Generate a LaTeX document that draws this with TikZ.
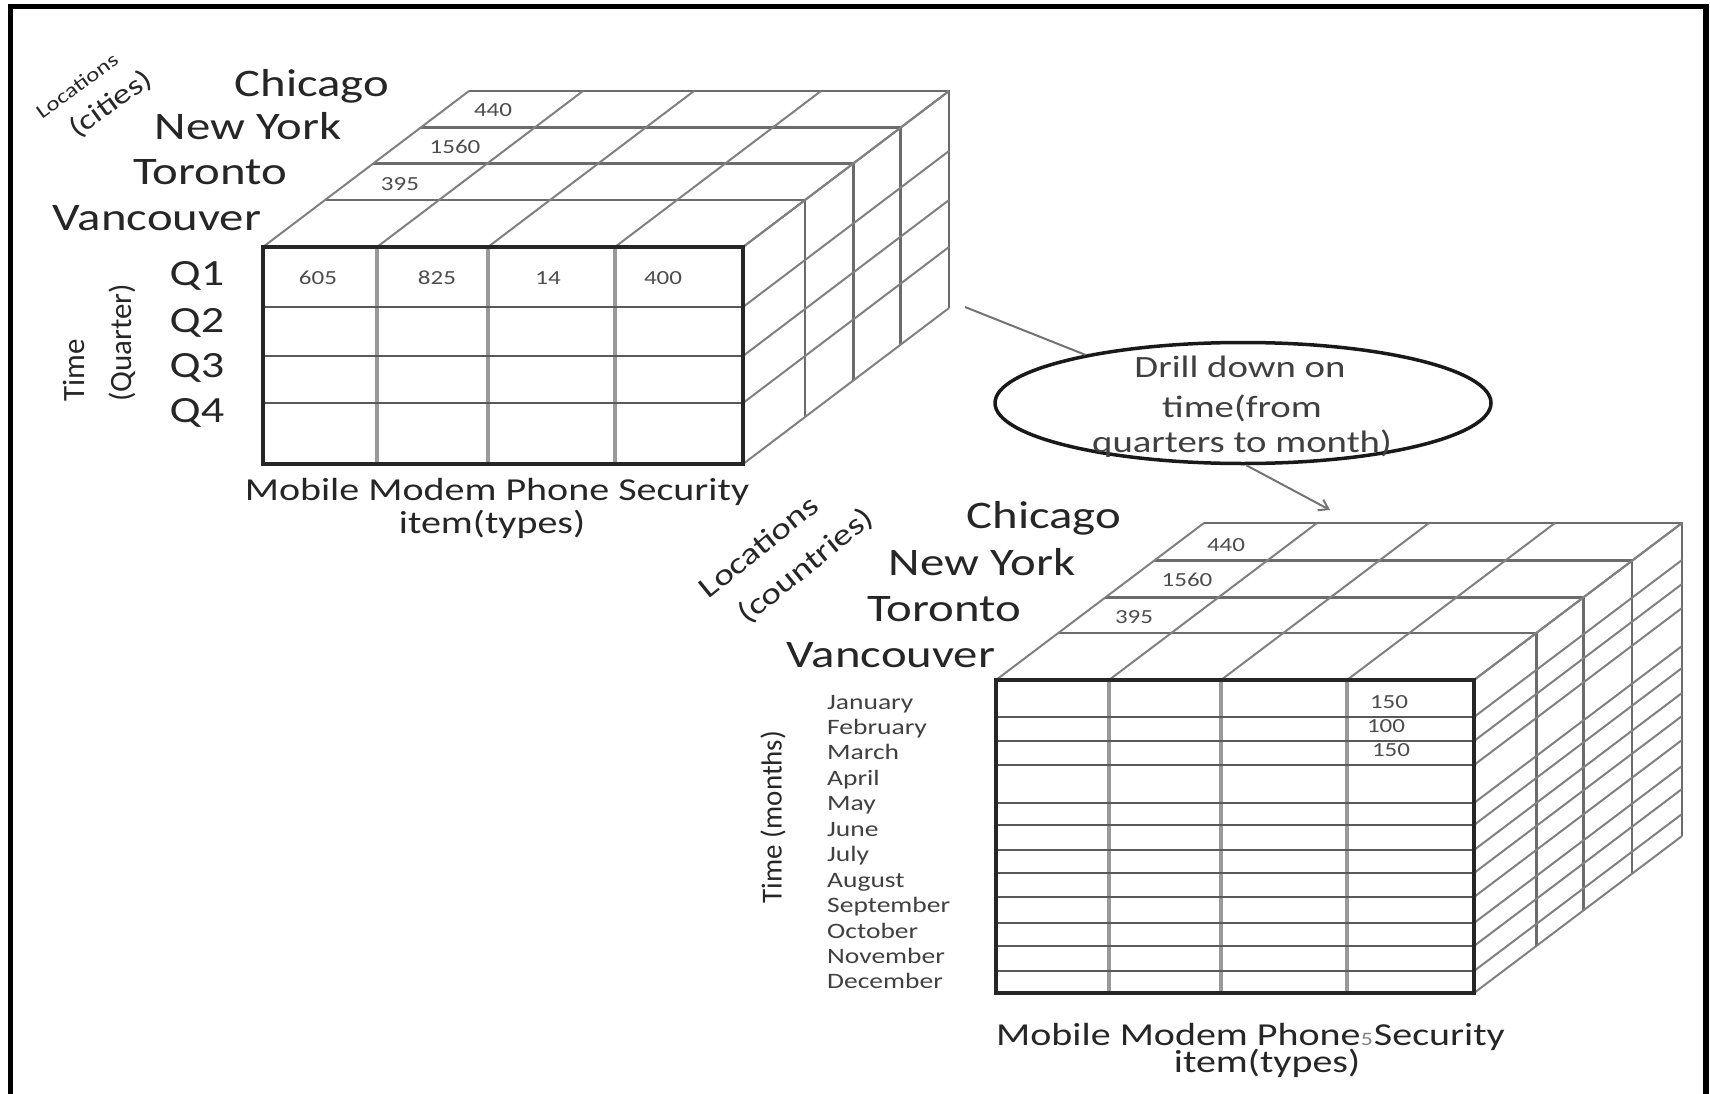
\documentclass[tikz,border=0pt]{standalone}
\usepackage{fontspec}
\setmainfont{Carlito}[FakeStretch=1.25]
\newfontfamily\plainlab{Carlito}
\usetikzlibrary{arrows.meta,shapes.geometric}

\newcommand\labsize[1]{\fontsize{#1}{#1}\selectfont}

\begin{document}
\begin{tikzpicture}[x=1pt,y=-1pt,
  diag/.style={line width=2pt,draw=black!50},
  layer/.style={line width=2.6pt,draw=black!58},
  frow/.style={line width=2.4pt,draw=black!65},
  fcol/.style={line width=3.2pt,draw=black!40},
  fborder/.style={line width=4.5pt,draw=black!85},
  city/.style={anchor=base,text=black!85,inner sep=0pt,font=\labsize{39}},
  qlab/.style={anchor=base,text=black!85,inner sep=0pt,font=\labsize{37}},
  axis/.style={anchor=base,text=black!85,inner sep=0pt,font=\labsize{32}},
  num/.style={text=black!70,inner sep=0pt,font=\labsize{20}},
  month/.style={anchor=base west,text=black!75,inner sep=0pt,font=\labsize{22}},
  etext/.style={anchor=base,text=black!75,inner sep=0pt,font=\labsize{31}},
  conn/.style={line width=2pt,draw=black!55}]

\useasboundingbox (0,0) rectangle (1710,1094);

% outer frame (open at the bottom)
\draw[line width=5.5pt,line join=miter] (10.5,1094) -- (10.5,6.5) -- (1706,6.5) -- (1706,1094);

% ---------------- quarter cube ----------------
\begin{scope}
\def\xa{263}\def\xb{743}\def\ya{247}\def\yb{464}\def\dx{206}\def\dy{156}
\foreach \f in {0.30,0.535,0.765,1}{
  \draw[layer] (\xa+\f*\dx,\ya-\f*\dy) -- (\xb+\f*\dx,\ya-\f*\dy) -- (\xb+\f*\dx,\yb-\f*\dy);
}
\foreach \c in {263,377,488,615,743}{
  \draw[diag] (\c,\ya) -- (\c+\dx,\ya-\dy);
}
\foreach \r in {247,307,356,403,464}{
  \draw[diag] (\xb,\r) -- (\xb+\dx,\r-\dy);
}
\fill[white] (\xa,\ya) rectangle (\xb,\yb);
\foreach \c in {377,488,615} \draw[fcol] (\c,\ya) -- (\c,\yb);
\foreach \r in {307,356,403} \draw[frow] (\xa,\r) -- (\xb,\r);
\draw[fborder] (\xa,\ya) rectangle (\xb,\yb);
\end{scope}

\node[num] (q605) at (318,278) {605};
\node[num] (q825) at (437,278) {825};
\node[num] (q14)  at (548,278) {14};
\node[num] (q400) at (663,278) {400};
\node[num] (qchi) at (493,110) {440};
\node[num] (qny)  at (455,147) {1560};
\node[num] (qtor) at (400,184) {395};

\node[city] (lchi) at (312,97)  {Chicago};
\node[city] (lny)  at (248,140) {New York};
\node[city] (ltor) at (210,185) {Toronto};
\node[city] (lvan) at (157,230) {Vancouver};

\node[qlab] (q1) at (197,285) {Q1};
\node[qlab] (q2) at (197,332) {Q2};
\node[qlab] (q3) at (197,377) {Q3};
\node[qlab] (q4) at (197,422) {Q4};

\node[rotate=90,align=left,text=black!85,inner sep=0pt,
      font=\plainlab\fontsize{31}{47}\selectfont] (ltime) at (99,343) {Time\\(Quarter)};

\node[rotate=36,align=left,text=black!85,inner sep=0pt,
      font=\fontsize{20}{36}\selectfont] (lloc) at (95,97)
      {Locations\\\hspace*{17pt}{\fontsize{28}{36}\selectfont(cities)}};

\node[axis] (litems) at (497,500) {Mobile Modem Phone Security};
\node[axis] (litem)  at (492,533) {item(types)};

% ---------------- month cube ----------------
\begin{scope}
\def\xa{996}\def\xb{1474}\def\ya{680}\def\yb{993}\def\dx{208}\def\dy{157}
\foreach \f in {0.30,0.525,0.76,1}{
  \draw[layer] (\xa+\f*\dx,\ya-\f*\dy) -- (\xb+\f*\dx,\ya-\f*\dy) -- (\xb+\f*\dx,\yb-\f*\dy);
}
\foreach \c in {996,1109,1221,1347,1474}{
  \draw[diag] (\c,\ya) -- (\c+\dx,\ya-\dy);
}
\foreach \r in {680,717,741,765,803,825,850,873,897,923,946,971,993}{
  \draw[diag] (\xb,\r) -- (\xb+\dx,\r-\dy);
}
\fill[white] (\xa,\ya) rectangle (\xb,\yb);
\foreach \c in {1109,1221,1347} \draw[fcol] (\c,\ya) -- (\c,\yb);
\foreach \r in {717,741,765,803,825,850,873,897,923,946,971} \draw[frow] (\xa,\r) -- (\xb,\r);
\draw[fborder] (\xa,\ya) rectangle (\xb,\yb);
\end{scope}

\node[num] (mchi) at (1226,545) {440};
\node[num] (mny)  at (1187,580) {1560};
\node[num] (mtor) at (1134,617) {395};
\node[num] (mjan) at (1389,702) {150};
\node[num] (mfeb) at (1386,726) {100};
\node[num] (mmar) at (1391,750) {150};

\node[city] (rchi) at (1044,528) {Chicago};
\node[city] (rny)  at (982,575)  {New York};
\node[city] (rtor) at (944,621)  {Toronto};
\node[city] (rvan) at (891,667)  {Vancouver};

\node[rotate=39,align=left,text=black!85,inner sep=0pt,
      font=\fontsize{30}{44}\selectfont] (rloc) at (787,554)
      {Locations\\\hspace*{14pt}(countries)};

\foreach \m [count=\i from 0] in {January,February,March,April,May,June,July,August,September,October,November,December}{
  \node[month] (month\i) at (827,709+25.45*\i) {\m};
}

\node[rotate=90,text=black!85,inner sep=0pt,
      font=\plainlab\fontsize{29}{29}\selectfont] (rtime) at (773,817) {Time (months)};

\node[axis,anchor=base west] (ritems) at (996,1045) {Mobile Modem Phone};
\node[anchor=base,text=black!50,inner sep=0pt,font=\labsize{19}] (pageno) at (1367,1045) {5};
\node[axis,anchor=base east] (rsec) at (1505,1045) {Security};
\node[axis] (ritem)  at (1267,1072) {item(types)};

% ---------------- drill-down note ----------------
\node[draw=black!90,line width=3.5pt,ellipse,minimum width=496pt,minimum height=121pt,inner sep=0pt] (drill) at (1243,403) {};
\node[etext] (dl1) at (1240,377) {Drill down on};
\node[etext] (dl2) at (1242,417) {time(from};
\node[etext] (dl3) at (1242,452) {quarters to month)};

\coordinate (qcorner) at (965,307);
\coordinate (mtop) at (1330,510);
\draw[conn] (qcorner) -- (drill.163);
\draw[conn,-{Straight Barb[length=9pt,width=12pt]}] (drill.-87) -- (mtop);

\end{tikzpicture}
\end{document}
